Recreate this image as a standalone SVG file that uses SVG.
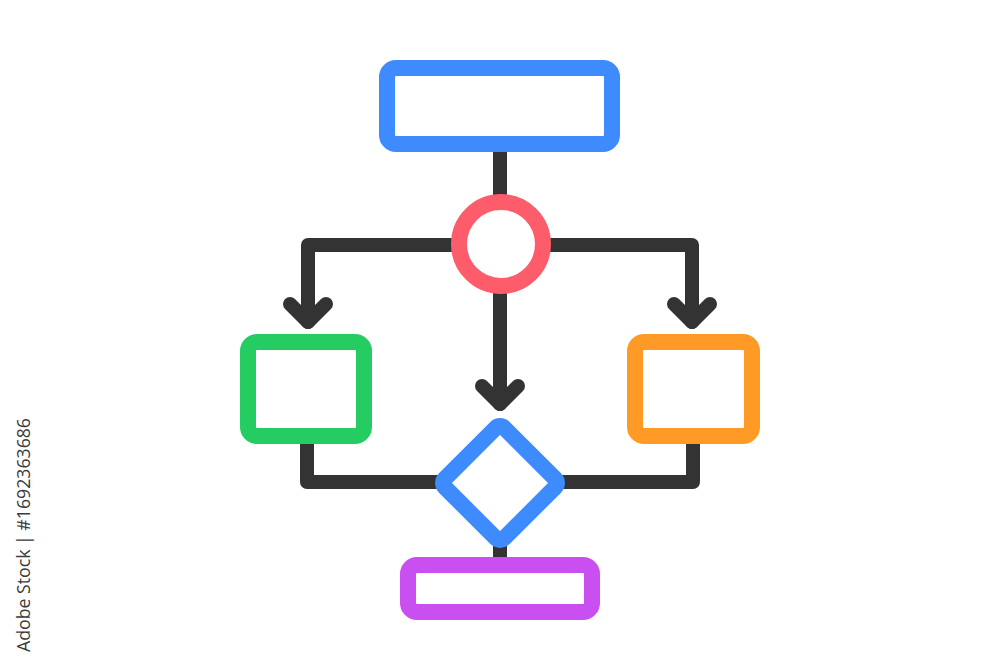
<svg xmlns="http://www.w3.org/2000/svg" width="1000" height="667" viewBox="0 0 1000 667">
  <style>
    .conn { fill: none; stroke: #333333; stroke-width: 14; stroke-linecap: round; stroke-linejoin: round; }
    .node { fill: #ffffff; stroke-width: 16; }
    .side { font-family: "Open Sans", "Liberation Sans", sans-serif; font-size: 19px; fill: #3a3a3a; }
  </style>
  <rect width="1000" height="667" fill="#ffffff"/>
  <g id="connectors">
    <path class="conn" d="M500 150 V200" stroke-linecap="butt"/>
    <path class="conn" d="M455 245 H308 V322"/>
    <path class="conn" d="M290 304 L308 322 L326 304"/>
    <path class="conn" d="M545 245 H692 V322"/>
    <path class="conn" d="M674 304 L692 322 L710 304"/>
    <path class="conn" d="M500 290 V404"/>
    <path class="conn" d="M482 386 L500 404 L518 386"/>
    <path class="conn" d="M307 440 V482 H440"/>
    <path class="conn" d="M693 440 V482 H560"/>
    <path class="conn" d="M500 545 V562" stroke-linecap="butt"/>
  </g>
  <g id="start">
    <rect class="node" x="387" y="68" width="225" height="76" rx="9" stroke="#3d8bfd"/>
  </g>
  <g id="split">
    <circle class="node" cx="501" cy="244" r="42" stroke="#fd5c6a" stroke-width="15"/>
  </g>
  <g id="left-process">
    <rect class="node" x="248" y="342" width="116" height="94" rx="9" stroke="#25cc62"/>
  </g>
  <g id="right-process">
    <rect class="node" x="635" y="342" width="117" height="94" rx="9" stroke="#ff9a27"/>
  </g>
  <g id="decision">
    <rect class="node" x="-42" y="-42" width="84" height="84" rx="6" stroke="#3d8bfd" transform="translate(500 483) rotate(45)"/>
  </g>
  <g id="end">
    <rect class="node" x="408" y="565" width="184" height="47" rx="9" stroke="#c94ff0" stroke-width="15.5"/>
  </g>
  <text class="side" transform="translate(30 652) rotate(-90)" textLength="234" lengthAdjust="spacingAndGlyphs">Adobe Stock | #1692363686</text>
</svg>
